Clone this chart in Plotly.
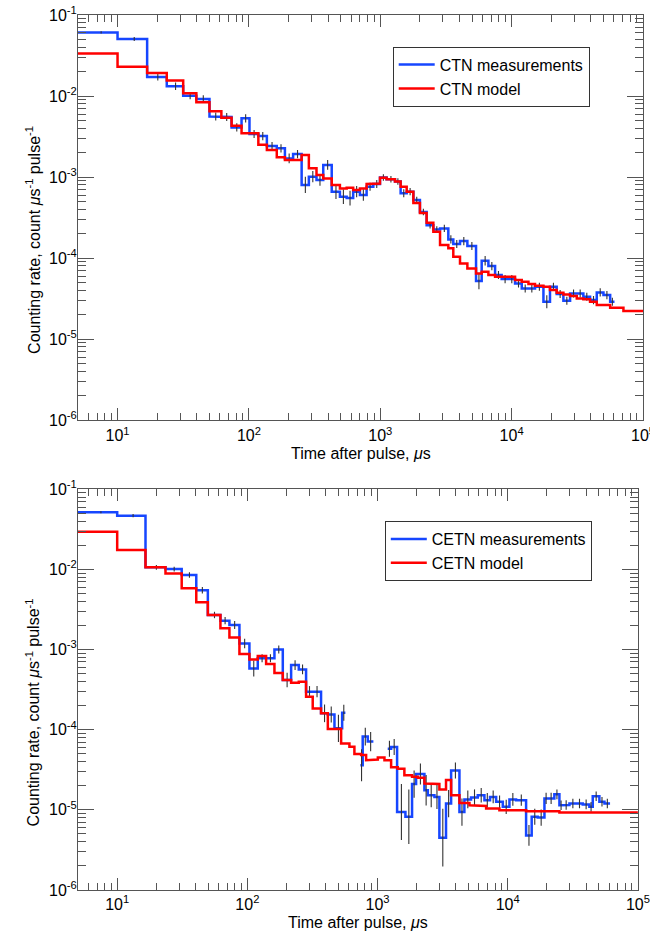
import math
import plotly.graph_objects as go

# ---------------- DATA ----------------
# Top panel (CTN): bin edges in microseconds
ctn_meas_edges = [5, 10, 16.8, 23.7, 31.6, 39.8, 50.1, 61.7, 73.8, 87.9, 101, 118, 137, 163, 188, 217,
                  252, 286, 327, 368, 427, 493, 555, 622, 700, 787, 885, 995, 1117, 1294, 1429, 1589,
                  1786, 2004, 2254, 2535, 2851, 3296, 3597, 4046, 4603, 5358, 5916, 6653, 7482, 8395,
                  9441, 10617, 11940, 13428, 15066, 17458, 19588, 22029, 24774, 27861, 31333, 35156,
                  39537, 44463, 50003, 56234, 60674]
ctn_meas_rate = [0.061, 0.0506, 0.0172, 0.0132, 0.0101, 0.0092, 0.0056, 0.0055, 0.0041, 0.0053,
                 0.0034, 0.0032, 0.00242, 0.00226, 0.0017, 0.00192, 0.0008, 0.00101, 0.00092, 0.00141,
                 0.00066, 0.00057, 0.00055, 0.00066, 0.0006, 0.00076, 0.00082, 0.00099, 0.00094, 0.00088,
                 0.00063, 0.00066, 0.00052, 0.00037, 0.000255, 0.000226, 0.000232, 0.00017, 0.000149,
                 0.000162, 0.000141, 0.000052, 0.0000927, 0.0000796, 0.0000617, 0.000055, 0.000055,
                 0.0000487, 0.0000422, 0.0000422, 0.0000443, 0.0000289, 0.0000443, 0.000036, 0.0000297,
                 0.0000366, 0.0000366, 0.0000333, 0.0000303, 0.0000377, 0.0000349, 0.0000289]
# half-length of the error bars in decades
ctn_meas_err_dex = [0.015, 0.025, 0.045, 0.045, 0.045, 0.045, 0.05, 0.05, 0.05, 0.05,
                    0.05, 0.05, 0.05, 0.05, 0.06, 0.05, 0.1, 0.07, 0.07, 0.06,
                    0.09, 0.09, 0.09, 0.07, 0.07, 0.05, 0.05, 0.04, 0.04, 0.04,
                    0.05, 0.045, 0.04, 0.04, 0.04, 0.04, 0.045, 0.05, 0.05, 0.05,
                    0.05, 0.1, 0.06, 0.05, 0.05, 0.05, 0.05, 0.05, 0.05, 0.05,
                    0.05, 0.08, 0.05, 0.05, 0.05, 0.05, 0.05, 0.05, 0.05, 0.05,
                    0.05, 0.05]
ctn_model_edges = ctn_meas_edges + [70958, 100000]
ctn_model_rate = [0.0336, 0.023, 0.0192, 0.0155, 0.0108, 0.0084, 0.0065, 0.0054, 0.0043, 0.00346,
                  0.00346, 0.0025, 0.00215, 0.00175, 0.00162, 0.00162, 0.00187, 0.00128, 0.00106, 0.00096,
                  0.0008, 0.00072, 0.00074, 0.00069, 0.00072, 0.00082, 0.00083, 0.00098, 0.00094, 0.00088,
                  0.00076, 0.00066, 0.00048, 0.00036, 0.000273, 0.000211, 0.000145, 0.000132, 0.000104,
                  0.0000859, 0.0000746, 0.0000647, 0.0000679, 0.0000617, 0.0000589, 0.0000589, 0.0000589,
                  0.0000535, 0.000051, 0.0000478, 0.0000456, 0.0000443, 0.0000403, 0.0000373, 0.0000355,
                  0.000034, 0.0000318, 0.000031, 0.0000289, 0.0000263, 0.0000263, 0.0000244, 0.0000244,
                  0.0000222]

# Bottom panel (CETN)
cetn_meas_edges = [5, 10, 16.5, 23.5, 31.3, 40.5, 49.7, 62.1, 72.8, 86.9, 103.7, 120.2, 139.3, 161.4,
                   187.1, 216.8, 248.3, 282.5, 317.7, 368.1, 415, 466.7, 534.6, 566.2, 738, 769, 841,
                   929, 1197, 1271, 1413, 1637, 1841, 1977, 2291, 2432, 2735, 2985, 3357, 3673, 4256,
                   4645, 5224, 5888, 6622, 7311, 8147, 9162, 10304, 11588, 13836, 15276, 16982, 19143,
                   20277, 22803, 24946, 26424, 29785, 33497, 37670, 42364, 44978, 50582, 55335, 61094]
cetn_meas_rate = [0.0516, 0.0468, 0.0106, 0.0101, 0.0085, 0.0055, 0.0027, 0.00229, 0.00202, 0.00119,
                  0.00058, 0.00078, 0.00078, 0.001, 0.000416, 0.00064, 0.000565, 0.000298, 0.000298,
                  0.00016, 0.000155, 0.000104, 0.000163, None, 0.000036, 0.000082, 0.000071, None,
                  0.000058, 0.000061, 0.0000094, 0.0000082, 0.000021, 0.000028, 0.0000176, 0.0000152,
                  0.0000145, 0.0000045, 0.000012, 0.000031, 0.0000094, 0.0000135, 0.0000143, 0.0000152,
                  0.0000132, 0.0000145, 0.0000126, 0.0000109, 0.0000135, 0.0000132, 0.0000048, 0.0000082,
                  0.000008, 0.0000139, 0.0000139, 0.0000156, 0.0000114, 0.0000115, 0.000012, 0.000012,
                  0.0000117, 0.0000109, 0.0000148, 0.0000126, 0.000012]
cetn_meas_err_dex = [0.012, 0.02, 0.03, 0.03, 0.035, 0.04, 0.04, 0.045, 0.05, 0.06,
                     0.1, 0.05, 0.05, 0.05, 0.09, 0.06, 0.06, 0.07, 0.07, 0.11,
                     0.1, 0.17, 0.1, None, 0.2, 0.11, 0.12, None, 0.1, 0.1,
                     0.35, 0.34, 0.17, 0.13, 0.19, 0.15, 0.15, 0.36, 0.17, 0.1,
                     0.17, 0.11, 0.1, 0.09, 0.09, 0.08, 0.08, 0.09, 0.08, 0.07,
                     0.13, 0.1, 0.1, 0.07, 0.07, 0.06, 0.06, 0.06, 0.06, 0.06,
                     0.06, 0.06, 0.06, 0.06, 0.06]
cetn_model_edges = [5, 10, 16.5, 23.5, 31.3, 40.5, 49.7, 62.1, 72.8, 86.9, 103.7, 120.2, 139.3, 161.4,
                    187.1, 216.8, 248.3, 282.5, 317.7, 368.1, 415, 525, 608, 664, 748, 817, 891, 1005,
                    1130, 1271, 1429, 1607, 1841, 2037, 2291, 2576, 2985, 3357, 3673, 4256, 5082, 6053,
                    6823, 8630, 13836, 24946, 100000]
cetn_model_rate = [0.0296, 0.0175, 0.0106, 0.0089, 0.0058, 0.00388, 0.0027, 0.00184, 0.00141, 0.00088,
                   0.00075, 0.00083, 0.00066, 0.00051, 0.000416, 0.000385, 0.000396, 0.000258, 0.000184,
                   0.00016, 0.000102, 0.0000673, 0.0000612, 0.0000496, 0.0000482, 0.0000417, 0.0000425,
                   0.000045, 0.0000417, 0.000034, 0.0000325, 0.0000271, 0.0000258, 0.0000252, 0.0000213,
                   0.000021, 0.000018, 0.0000235, 0.0000152, 0.0000122, 0.0000114, 0.0000112, 0.0000104,
                   0.0000099, 0.0000096, 0.0000093]

x_tick_vals = [10, 100, 1000, 10000, 100000]
x_tick_text = ["10<sup>1</sup>", "10<sup>2</sup>", "10<sup>3</sup>", "10<sup>4</sup>", "10<sup>5</sup>"]
y_tick_vals = [1e-6, 1e-5, 1e-4, 1e-3, 1e-2, 1e-1]
y_tick_text = ["10<sup>-6</sup>", "10<sup>-5</sup>", "10<sup>-4</sup>", "10<sup>-3</sup>",
               "10<sup>-2</sup>", "10<sup>-1</sup>"]

# ---------------- helpers ----------------
assert len(ctn_meas_edges) == len(ctn_meas_rate) + 1 == len(ctn_meas_err_dex) + 1
assert len(ctn_model_edges) == len(ctn_model_rate) + 1
assert len(cetn_meas_edges) == len(cetn_meas_rate) + 1 == len(cetn_meas_err_dex) + 1
assert len(cetn_model_edges) == len(cetn_model_rate) + 1


def steps(edges, vals):
    xs, ys = [], []
    for i, v in enumerate(vals):
        if v is None:
            xs.append(None)
            ys.append(None)
            continue
        xs += [edges[i], edges[i + 1]]
        ys += [v, v]
    return xs, ys


def errbars(edges, vals, errs):
    xc, yc, up, dn = [], [], [], []
    for i, (v, e) in enumerate(zip(vals, errs)):
        if v is None:
            continue
        xc.append(0.5 * (edges[i] + edges[i + 1]))
        yc.append(v)
        up.append(v * (10 ** e - 1))
        dn.append(v * (1 - 10 ** (-e)))
    return xc, yc, up, dn


BLUE = "#1646ff"
RED = "#ff0000"
FONT = "Liberation Sans, Arial, Helvetica, sans-serif"
AX = "#555555"

fig = go.Figure()


def add_panel(meas_e, meas_v, meas_err, mod_e, mod_v, xa, ya, leg, name):
    bx, by = steps(meas_e, meas_v)
    fig.add_trace(go.Scatter(x=bx, y=by, mode="lines", line=dict(color=BLUE, width=2.5),
                             name=name + " measurements", xaxis=xa, yaxis=ya, legend=leg,
                             connectgaps=False))
    xc, yc, up, dn = errbars(meas_e, meas_v, meas_err)
    fig.add_trace(go.Scatter(x=xc, y=yc, mode="markers", marker=dict(size=0.1, color="rgba(0,0,0,0)"),
                             error_y=dict(type="data", array=up, arrayminus=dn, symmetric=False,
                                          color="#333333", thickness=1.1, width=0),
                             showlegend=False, hoverinfo="skip", xaxis=xa, yaxis=ya))
    rx, ry = steps(mod_e, mod_v)
    fig.add_trace(go.Scatter(x=rx, y=ry, mode="lines", line=dict(color=RED, width=2.5),
                             name=name + " model", xaxis=xa, yaxis=ya, legend=leg))


add_panel(ctn_meas_edges, ctn_meas_rate, ctn_meas_err_dex, ctn_model_edges, ctn_model_rate,
          "x", "y", "legend", "CTN")
add_panel(cetn_meas_edges, cetn_meas_rate, cetn_meas_err_dex, cetn_model_edges, cetn_model_rate,
          "x2", "y2", "legend2", "CETN")

x_minor = [m * 10 ** d for d in range(0, 5) for m in range(2, 10) if m * 10 ** d >= 5]
y_minor = [m * 10.0 ** d for d in range(-6, -1) for m in range(2, 10)]


def xaxis(domain, anchor, standoff):
    return dict(type="log", range=[math.log10(5), 5], domain=domain, anchor=anchor,
                automargin=False, ticklabeloverflow="allow", ticklabelstandoff=standoff,
                tickmode="array", tickvals=x_tick_vals, ticktext=x_tick_text,
                ticks="inside", ticklen=12, tickwidth=1, tickcolor=AX,
                showline=True, linecolor=AX, linewidth=1, mirror="ticks",
                showgrid=False, zeroline=False,
                tickfont=dict(family=FONT, size=16, color="black"),
                minor=dict(tickmode="array", tickvals=x_minor, ticks="inside", ticklen=7,
                           tickwidth=1, tickcolor=AX, showgrid=False))


def yaxis(domain, anchor):
    return dict(type="log", range=[-6, -1], domain=domain, anchor=anchor,
                automargin=False, ticklabeloverflow="allow", ticklabelstandoff=-3,
                tickmode="array", tickvals=y_tick_vals, ticktext=y_tick_text,
                ticks="inside", ticklen=16, tickwidth=1, tickcolor=AX,
                showline=True, linecolor=AX, linewidth=1, mirror="ticks",
                showgrid=False, zeroline=False,
                tickfont=dict(family=FONT, size=16, color="black"),
                minor=dict(tickmode="array", tickvals=y_minor, ticks="inside", ticklen=8,
                           tickwidth=1, tickcolor=AX, showgrid=False))


def legend(x, y):
    return dict(x=x, y=y, xanchor="left", yanchor="top", bgcolor="white",
                bordercolor="#333333", borderwidth=1, font=dict(family=FONT, size=16, color="black"),
                tracegroupgap=0, itemwidth=36)


ytitle = "Counting rate, count <i>μ</i>s<sup>-1</sup> pulse<sup>-1</sup>"
xtitle = "Time after pulse, <i>μ</i>s"

fig.update_layout(
    width=650, height=934,
    margin=dict(l=78, r=7, t=15, b=44),
    paper_bgcolor="white", plot_bgcolor="white",
    font=dict(family=FONT, size=16, color="black"),
    xaxis=xaxis([0, 1], "y", 1),
    yaxis=yaxis([0.537, 1.0], "x"),
    xaxis2=xaxis([0, 0.991], "y2", 0),
    yaxis2=yaxis([0, 0.458], "x2"),
    legend=legend(0.557, 0.9638),
    legend2=legend(0.543, 0.4217),
    annotations=[
        dict(text=xtitle, x=0.501, y=0.4983, xref="paper", yref="paper", showarrow=False,
             xanchor="center", yanchor="middle", font=dict(family=FONT, size=16)),
        dict(text=xtitle, x=0.4956, y=-0.0366, xref="paper", yref="paper", showarrow=False,
             xanchor="center", yanchor="middle", font=dict(family=FONT, size=16)),
        dict(text=ytitle, x=-0.0796, y=0.743, xref="paper", yref="paper", showarrow=False,
             textangle=-90, xanchor="center", yanchor="middle", font=dict(family=FONT, size=16)),
        dict(text=ytitle, x=-0.0796, y=0.203, xref="paper", yref="paper", showarrow=False,
             textangle=-90, xanchor="center", yanchor="middle", font=dict(family=FONT, size=16)),
    ],
)

fig.write_html("out.html", config={"displayModeBar": False},
               post_script="document.body.style.margin='0px';document.body.style.overflow='hidden';")
